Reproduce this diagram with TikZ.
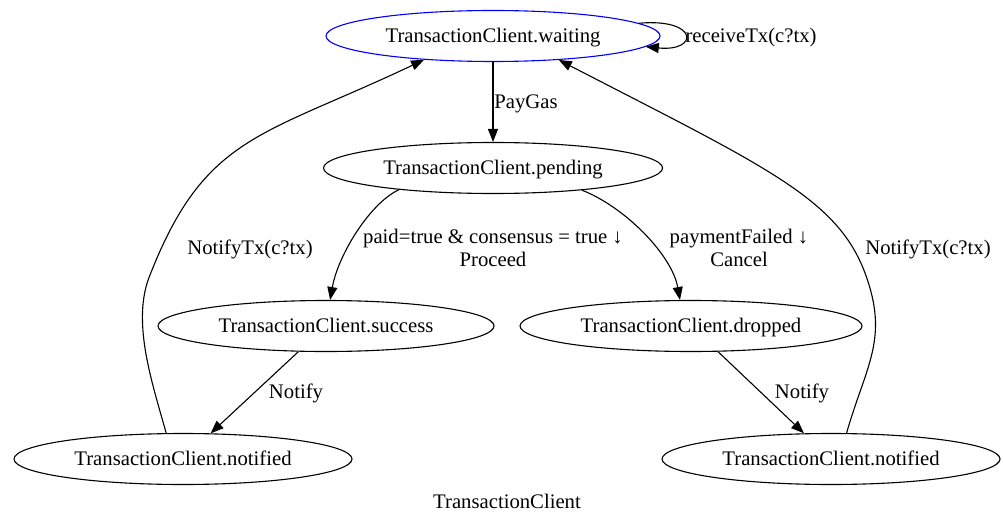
\documentclass[tikz,border=0pt]{standalone}
\usepackage{fontspec}
\setmainfont{Liberation Serif}
\usetikzlibrary{arrows.meta,shapes.geometric}
\newcommand\gvsize{\fontsize{20.7pt}{23.5pt}\selectfont}
\begin{document}
\begin{tikzpicture}[x=1pt,y=-1pt,
  state/.style={draw, ellipse, line width=1.1pt, inner sep=0pt,
                minimum height=51pt, font=\gvsize, text height=13.7pt, text depth=0pt},
  edge/.style={draw, line width=1.1pt, -{Triangle[length=13pt,width=10pt]}},
  lbl/.style={font=\gvsize, inner sep=0pt, text height=13.7pt, text depth=0pt},
  lbltwo/.style={font=\gvsize, inner sep=0pt, align=center}]
\useasboundingbox (0,0) rectangle (1003,516);

% states
\node[state, draw=blue, minimum width=334pt] (waiting) at (493,36) {TransactionClient.waiting};
\node[state, minimum width=339pt] (pending) at (493,168) {TransactionClient.pending};
\node[state, minimum width=336pt] (success) at (326,326) {TransactionClient.success};
\node[state, minimum width=342pt] (dropped) at (691,326) {TransactionClient.dropped};
\node[state, minimum width=338pt] (notifiedA) at (183,459) {TransactionClient.notified};
\node[state, minimum width=338pt] (notifiedB) at (831,459) {TransactionClient.notified};

% transitions
\draw[edge] (waiting) -- (pending);
\node[lbl] (lpay) at (526,102) {PayGas};

\draw[edge] (waiting.5) .. controls (699,18) and (699,52) .. (waiting.-4);
\node[lbl] (lrecv) at (751,36) {receiveTx(c?tx)};

\draw[edge] (pending.193) .. controls (370,203) and (338,255) .. (success.81);
\node[lbltwo] (lproceed) at (493,248) {paid=true \& consensus = true ↓\\Proceed};

\draw[edge] (pending.-14) .. controls (625,207) and (672,255) .. (dropped.113);
\node[lbltwo] (lcancel) at (739,248) {paymentFailed ↓\\Cancel};

\draw[edge] (success) -- (notifiedA);
\node[lbl] (lnotA) at (296,392) {Notify};

\draw[edge] (dropped) -- (notifiedB);
\node[lbl] (lnotB) at (802,392) {Notify};

\draw[edge] (notifiedA.123) .. controls (152,382) and (131,321) .. (150,275)
  .. controls (205,135) and (261,137) .. (waiting.199);
\node[lbl] (ltxA) at (250,248) {NotifyTx(c?tx)};

\draw[edge] (notifiedB.59) .. controls (866,365) and (889.5,339) .. (865,273)
  .. controls (837,198) and (765,166.5) .. (waiting.-20);
\node[lbl] (ltxB) at (928,248) {NotifyTx(c?tx)};

\node[lbl] (title) at (507,502) {TransactionClient};
\end{tikzpicture}
\end{document}
